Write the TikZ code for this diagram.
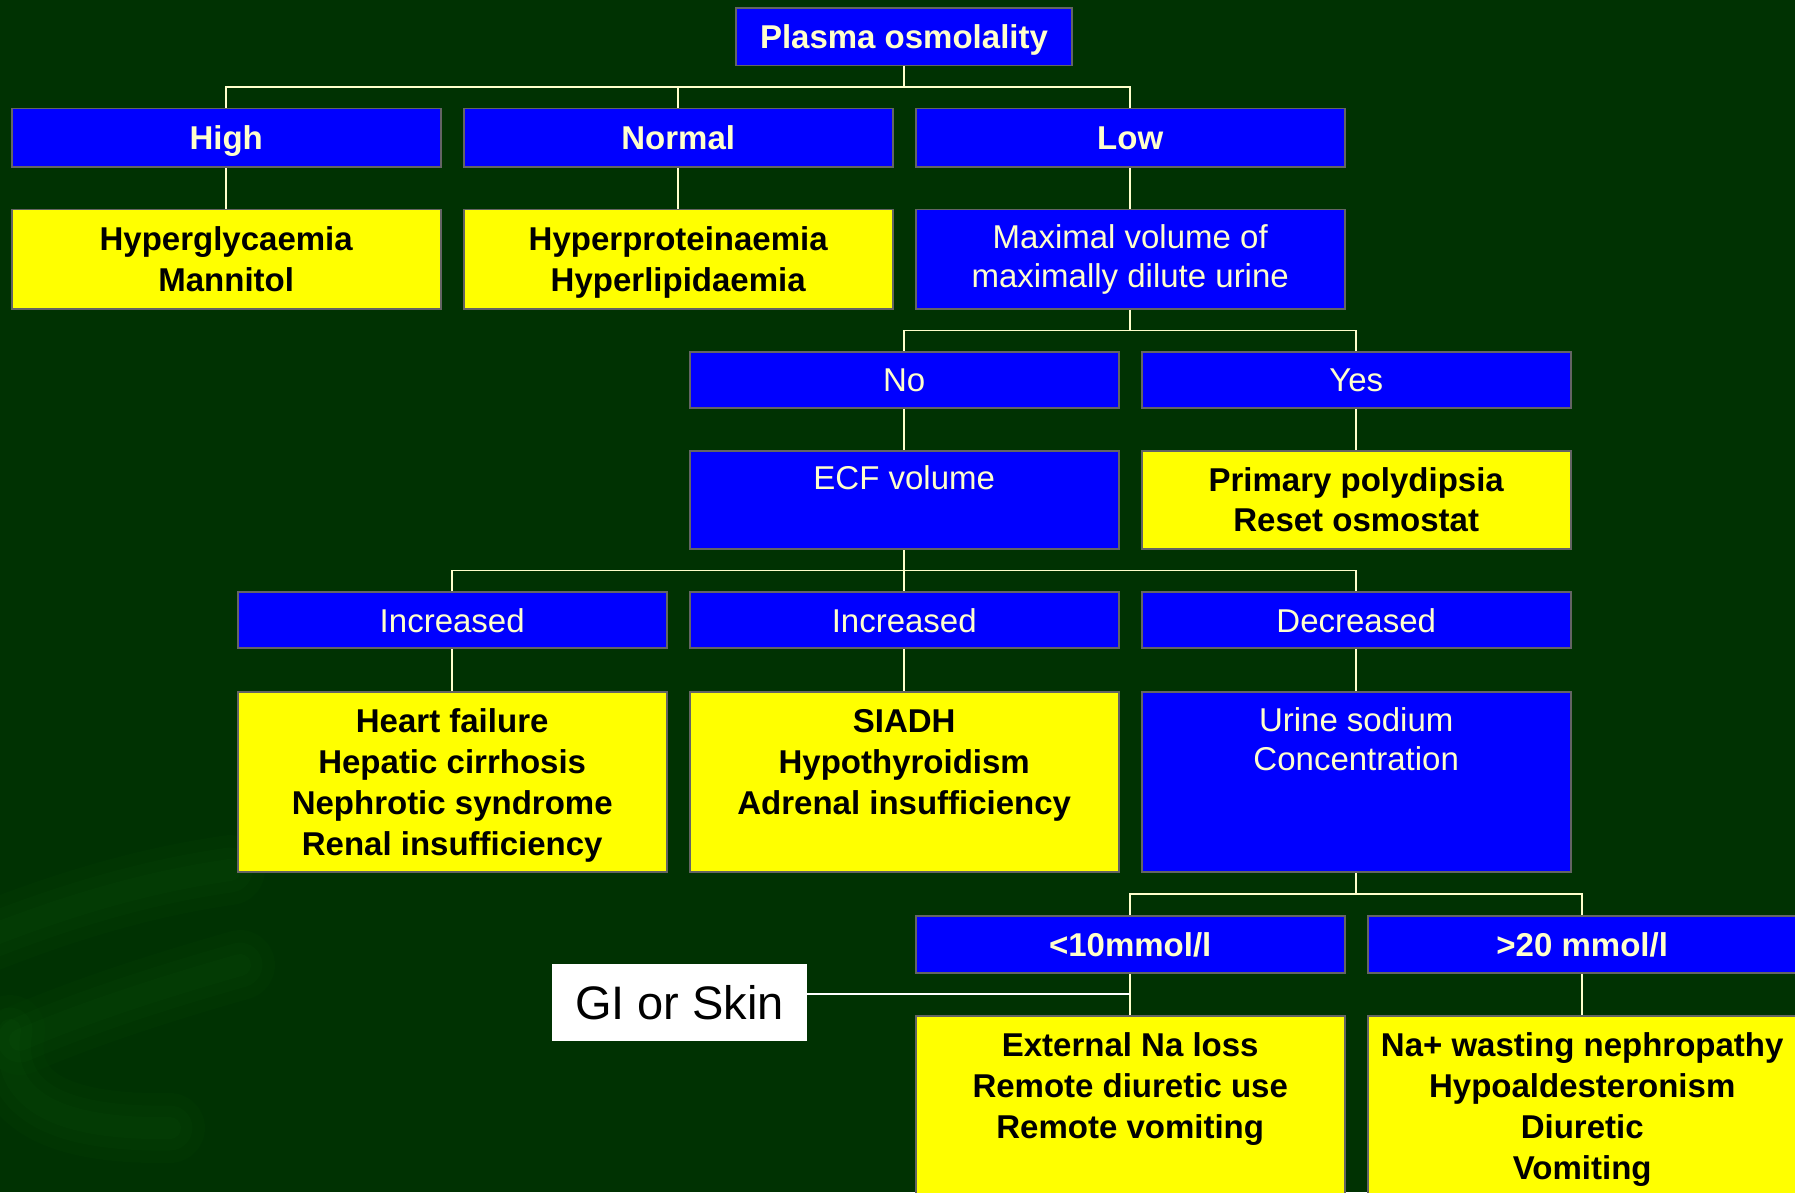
\documentclass[tikz,border=0pt]{standalone}
\usepackage{fontspec}
\setmainfont{Liberation Sans}
\usetikzlibrary{calc}

\definecolor{bggreen}{RGB}{0,50,2}
\definecolor{swirl}{RGB}{20,110,20}
\definecolor{boxblue}{RGB}{0,0,255}
\definecolor{boxyellow}{RGB}{255,255,0}
\definecolor{cream}{RGB}{255,255,204}
\definecolor{edge}{RGB}{100,100,100}

% every text line carries a strut whose middle sits on the capital height,
% so that lines of a box are spaced by \lnskip and centred on their capitals
\newdimen\lnskip
\newdimen\lnup
\newdimen\lndown
\newcommand\capline{\lnup=\lnskip \divide\lnup by 2 \lndown=\lnup
  \advance\lnup by 11.8pt \advance\lndown by -11.8pt
  \vrule width 0pt height \lnup depth \lndown\relax}
\lineskip=0pt
\lineskiplimit=0pt

\pgfdeclarelayer{bg}
\pgfdeclarelayer{wires}
\pgfsetlayers{bg,wires,main}

\tikzset{
  linegap/.code={\global\lnskip=#1pt},
  box/.style={draw=edge, line width=1.7pt, inner sep=0pt, align=center,
    minimum width=429pt, linegap=41},
  boldtext/.style={font=\bfseries\fontsize{33}{1}\selectfont},
  plaintext/.style={font=\fontsize{33}{1}\selectfont},
  bluebox/.style={box, fill=boxblue, text=cream, plaintext},
  bluehead/.style={box, fill=boxblue, text=cream, boldtext},
  yelbox/.style={box, fill=boxyellow, text=black, boldtext},
  wire/.style={draw=cream, line width=1.6pt},
  giwire/.style={draw=white, line width=2pt},
  notebox/.style={fill=white, inner sep=0pt, text=black,
    font=\fontsize{47}{50}\selectfont},
}

\begin{document}
\begin{tikzpicture}[x=1pt, y=-1pt]
\useasboundingbox (0,0) rectangle (1795,1192);

% background with a faint swirl in the lower left
\begin{pgfonlayer}{bg}
  \fill[bggreen] (0,0) rectangle (1795,1192);
  \foreach \w/\o in {70/0.05, 45/0.06, 22/0.07} {
    \draw[swirl, line width=\w pt, opacity=\o, line cap=round]
      (-20,940) .. controls (80,900) and (160,880) .. (230,870);
    \draw[swirl, line width=\w pt, opacity=\o, line cap=round]
      (20,1040) .. controls (90,1010) and (170,985) .. (240,965);
    \draw[swirl, line width=\w pt, opacity=\o, line cap=round]
      (10,1030) .. controls (0,1090) and (40,1130) .. (170,1128);
  }
\end{pgfonlayer}

% level 0
\node[bluehead, minimum width=335.5pt, minimum height=57.5pt] (plasma) at (904,36.75)
  {\capline Plasma osmolality};

% level 1
\node[bluehead, minimum height=58.2pt] (high)   at (226.2,137.6) {\capline High};
\node[bluehead, minimum height=58.2pt] (normal) at (678.2,137.6) {\capline Normal};
\node[bluehead, minimum height=58.2pt] (low)    at (1130.2,137.6) {\capline Low};

% level 2
\node[yelbox, linegap=40.5, minimum height=99.6pt] (hyperg) at (226.2,259.2)
  {\capline Hyperglycaemia\\\capline Mannitol};
\node[yelbox, linegap=40.5, minimum height=99.6pt] (hyperp) at (678.2,259.2)
  {\capline Hyperproteinaemia\\\capline Hyperlipidaemia};
\node[bluebox, linegap=39, minimum height=99.6pt] (maxim) at (1130.2,259.2)
  {\capline Maximal volume of\\\capline maximally dilute urine\rule[-13pt]{0pt}{1pt}};

% level 3
\node[bluebox, minimum height=56pt] (no)  at (904.2,379.7)  {\capline No};
\node[bluebox, minimum height=56pt] (yes) at (1356.2,379.7) {\capline Yes};

% level 4
\node[bluebox, linegap=39, minimum height=98.3pt] (ecf) at (904.2,499.85)
  {\capline ECF volume\\[6pt]\capline};
\node[yelbox, linegap=40.5, minimum height=98.3pt] (primary) at (1356.2,499.85)
  {\capline Primary polydipsia\\\capline Reset osmostat};

% level 5
\node[bluebox, minimum height=56pt] (incA) at (452.2,620.3)  {\capline Increased};
\node[bluebox, minimum height=56pt] (incB) at (904.2,620.3)  {\capline Increased};
\node[bluebox, minimum height=56pt] (decr) at (1356.2,620.3) {\capline Decreased};

% level 6
\node[yelbox, minimum height=180.6pt] (heart) at (452.2,782)
  {\capline Heart failure\\\capline Hepatic cirrhosis\\\capline Nephrotic syndrome\\\capline Renal insufficiency};
\node[yelbox, minimum height=180.6pt] (siadh) at (904.2,782)
  {\capline SIADH\\\capline Hypothyroidism\\\capline Adrenal insufficiency\\\capline};
\node[bluebox, linegap=39, minimum height=180.6pt] (urine) at (1356.2,782)
  {\capline Urine sodium\\\capline Concentration\\[8pt]\capline\\\capline};

% level 7
\node[bluehead, minimum height=57pt] (lt10) at (1130.2,944.2) {\capline <10mmol/l};
\node[bluehead, minimum height=57pt] (gt20) at (1582.2,944.2) {\capline >20 mmol/l};

% level 8
\node[yelbox, minimum height=181pt] (ext) at (1130.2,1106.5)
  {\capline External Na loss\\\capline Remote diuretic use\\\capline Remote vomiting\\\capline};
\node[yelbox, minimum height=181pt] (waste) at (1582.2,1106.5)
  {\capline Na+ wasting nephropathy\\\capline Hypoaldesteronism\\\capline Diuretic\\\capline Vomiting};

% side note
\node[notebox, minimum width=255.3pt, minimum height=76.7pt] (gi) at (679.6,1002.3) {GI or Skin};

% connectors
\begin{pgfonlayer}{wires}
  \coordinate (busA) at ($(plasma.south)!0.5!(normal.north)$);
  \coordinate (busC) at ($(maxim.south)!0.5!(no.north)$);
  \coordinate (busE) at ($(ecf.south)!0.5!(incB.north)$);
  \coordinate (busG) at ($(urine.south)!0.5!(lt10.north)$);
  \coordinate (gijoin) at ($(lt10.south)!0.5!(ext.north)$);

  \draw[wire] (plasma.south) -- (plasma.south |- busA);
  \draw[wire] (high.north) -- (high.north |- busA) -- (low.north |- busA) -- (low.north);
  \draw[wire] (normal.north) -- (normal.north |- busA);
  \draw[wire] (high) -- (hyperg);
  \draw[wire] (normal) -- (hyperp);
  \draw[wire] (low) -- (maxim);

  \draw[wire] (maxim.south) -- (maxim.south |- busC);
  \draw[wire] (no.north) -- (no.north |- busC) -- (yes.north |- busC) -- (yes.north);
  \draw[wire] (no) -- (ecf);
  \draw[wire] (yes) -- (primary);

  \draw[wire] (ecf.south) -- (ecf.south |- busE);
  \draw[wire] (incA.north) -- (incA.north |- busE) -- (decr.north |- busE) -- (decr.north);
  \draw[wire] (incB.north) -- (incB.north |- busE);
  \draw[wire] (incA) -- (heart);
  \draw[wire] (incB) -- (siadh);
  \draw[wire] (decr) -- (urine);

  \draw[wire] (urine.south) -- (urine.south |- busG);
  \draw[wire] (lt10.north) -- (lt10.north |- busG) -- (gt20.north |- busG) -- (gt20.north);
  \draw[wire] (lt10) -- (ext);
  \draw[wire] (gt20) -- (waste);

  \draw[giwire] (gi.east |- gijoin) -- (gijoin);
\end{pgfonlayer}
\end{tikzpicture}
\end{document}
